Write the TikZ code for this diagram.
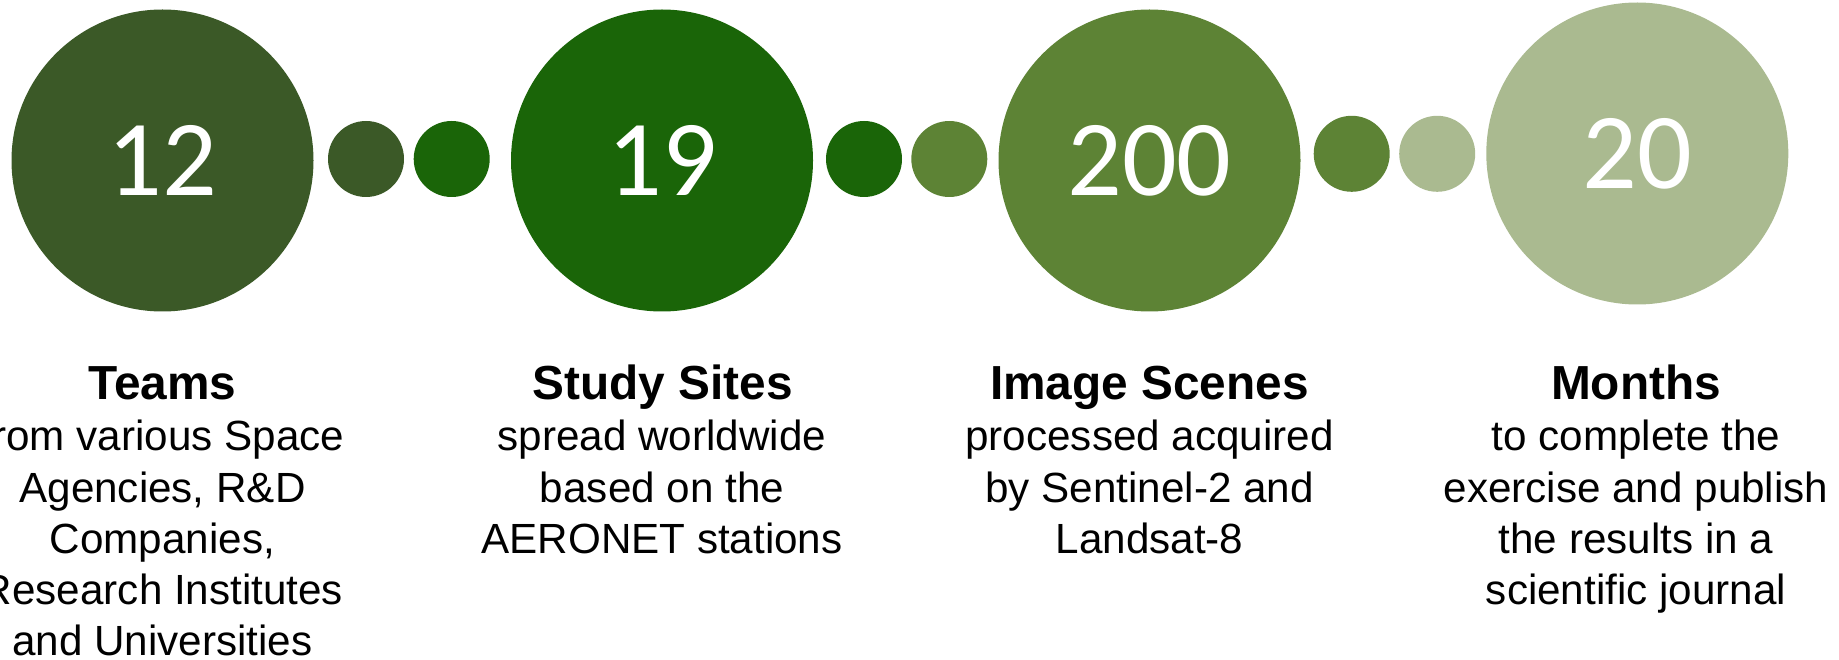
\documentclass[tikz,border=0pt]{standalone}
\usepackage{fontspec}
\setmainfont{Liberation Sans}
\newfontfamily\numfont{Carlito}

\definecolor{olive}{HTML}{3B5927}
\definecolor{leaf}{HTML}{1A6508}
\definecolor{moss}{HTML}{5D8335}
\definecolor{sage}{HTML}{AABA90}

\tikzset{
  bigdisc/.style={circle, draw=none, inner sep=0pt, minimum size=302pt,
    text=white, font=\numfont\fontsize{108}{110}\selectfont},
  dot/.style={circle, draw=none, inner sep=0pt, minimum size=76pt},
  headtext/.style={anchor=base, inner sep=0pt,
    font=\fontsize{47.8}{51.3}\selectfont\bfseries},
  % anchored at the baseline of the last line
  bodytext/.style={anchor=base, inner sep=0pt, align=center,
    font=\fontsize{42.2}{51.3}\selectfont},
}

\begin{document}
\begin{tikzpicture}[x=1pt, y=-1pt]
\useasboundingbox (0,0) rectangle (1839,660);

% large figures
\node[bigdisc, fill=olive] (c1) at (162.5,160.5) {12};
\node[bigdisc, fill=leaf]  (c2) at (662,160.5)   {19};
\node[bigdisc, fill=moss]  (c3) at (1149.5,160.5) {200};
\node[bigdisc, fill=sage]  (c4) at (1637.3,153.5) {20};

% small linking dots
\node[dot, fill=olive] (d1) at (366,159)    {};
\node[dot, fill=leaf]  (d2) at (451.7,159)  {};
\node[dot, fill=leaf]  (d3) at (864,159)    {};
\node[dot, fill=moss]  (d4) at (949.3,159)  {};
\node[dot, fill=moss]  (d5) at (1351.7,153.8) {};
\node[dot, fill=sage]  (d6) at (1437.2,153.8) {};

% headings
\node[headtext] (h1) at (162.5,399.5)  {Teams};
\node[headtext] (h2) at (662.5,399.5)  {Study Sites};
\node[headtext] (h3) at (1149.5,399.5) {Image Scenes};
\node[headtext] (h4) at (1636,399.5)   {Months};

% descriptions (first line baseline at 450.7, 51.3 between lines)
\node[bodytext] (b1) at (162.5,655.9)
  {from various Space\\Agencies, R\&D\\Companies,\\Research Institutes\\and Universities};
\node[bodytext] (b2) at (662,553.3)
  {spread worldwide\\based on the\\AERONET stations};
\node[bodytext] (b3) at (1149.5,553.3)
  {processed acquired\\by Sentinel-2 and\\Landsat-8};
\node[bodytext] (b4) at (1636,604.6)
  {to complete the\\exercise and publish\\the results in a\\scientific journal};
\end{tikzpicture}
\end{document}
